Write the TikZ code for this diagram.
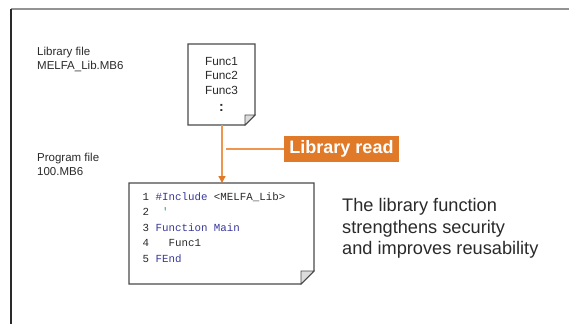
\documentclass[tikz,border=0pt]{standalone}
\usepackage{fontspec}
\setmainfont{Liberation Sans}
\setmonofont{Liberation Mono}
\usetikzlibrary{arrows.meta}
\definecolor{orng}{HTML}{E07A28}
\definecolor{orngline}{HTML}{EE9550}
\definecolor{kw}{HTML}{38389C}
\definecolor{cmt}{HTML}{2AA05A}
\definecolor{ink}{HTML}{2A2A2A}
\definecolor{foldfill}{HTML}{DCDCDC}
\tikzset{
  docbox/.style={inner sep=0pt, outer sep=0pt},
  docline/.style={draw=ink!85, line width=1.1pt, fill=white, line join=miter},
  foldline/.style={draw=ink!85, line width=0.9pt, fill=foldfill},
  lbltext/.style={inner sep=0pt, anchor=west, align=left, text=ink,
    font=\fontsize{11.5}{14}\selectfont},
  functext/.style={inner sep=0pt, text=ink, font=\fontsize{11.8}{14}\selectfont},
  codetext/.style={inner sep=0pt, anchor=west, text=ink,
    font=\ttfamily\fontsize{10.8}{13}\selectfont},
  readlabel/.style={fill=orng, text=white, inner sep=0pt,
    minimum width=115pt, minimum height=26pt,
    font=\bfseries\fontsize{18}{20}\selectfont},
  flowline/.style={draw=orngline, line width=1.3pt},
  bigtext/.style={inner sep=0pt, anchor=west, align=left, text=ink,
    font=\fontsize{18.2}{21.5}\selectfont}
}
\begin{document}
\begin{tikzpicture}[x=1pt,y=-1pt]
\useasboundingbox (0,0) rectangle (569,324);
% frame
\draw[draw=gray!85, line width=1.3pt] (11,9) -- (569,9);
\draw[draw=ink, line width=1.3pt] (11,9) -- (11,324);

% library file document
\node[docbox, minimum width=67pt, minimum height=81pt] (lib) at (221.5,84.5) {};
\draw[docline] (lib.north west) -- (lib.north east) -- ([yshift=10pt]lib.south east)
  -- ([xshift=-10pt]lib.south east) -- (lib.south west) -- cycle;
\draw[foldline] ([yshift=10pt]lib.south east) -- ([xshift=-10pt,yshift=10pt]lib.south east)
  -- ([xshift=-10pt]lib.south east) -- cycle;
\node[functext] (f1) at (221.5,61) {Func1};
\node[functext] (f2) at (221.5,75.5) {Func2};
\node[functext] (f3) at (221.5,90) {Func3};
\node[functext, font=\bfseries\fontsize{14}{14}\selectfont] (f4) at (221.5,108) {:};

% program file document
\node[docbox, minimum width=185pt, minimum height=101pt] (prog) at (221.5,233.5) {};
\draw[docline] (prog.north west) -- (prog.north east) -- ([yshift=13pt]prog.south east)
  -- ([xshift=-13pt]prog.south east) -- (prog.south west) -- cycle;
\draw[foldline] ([yshift=13pt]prog.south east) -- ([xshift=-13pt,yshift=13pt]prog.south east)
  -- ([xshift=-13pt]prog.south east) -- cycle;
\node[codetext] (c1) at (142.5,197.3) {1 \textcolor{kw}{\#Include} <MELFA\_Lib>};
\node[codetext] (c2) at (142.5,211.7) {2 \textcolor{cmt}{~'}};
\node[codetext] (c3) at (142.5,227.5) {3 \textcolor{kw}{Function Main}};
\node[codetext] (c4) at (142.5,243.2) {4 \ \ Func1};
\node[codetext] (c5) at (142.5,258.3) {5 \textcolor{kw}{FEnd}};

% left labels
\node[lbltext] (libname) at (37,59) {Library file\\MELFA\_Lib.MB6};
\node[lbltext] (progname) at (37,164.5) {Program file\\100.MB6};

% arrow and label
\draw[flowline, -{Triangle[length=7pt,width=7pt,color=orng]}]
  ([xshift=0.5pt]lib.south) -- ([xshift=0.5pt]prog.north);
\node[readlabel] (read) at (341.5,149) {Library read};
\coordinate (tap) at (226,149);
\draw[flowline] (tap) -- (read.west);

% right text
\node[bigtext] (note) at (342,228.5) {The library function\\strengthens security\\and improves reusability};
\end{tikzpicture}
\end{document}
